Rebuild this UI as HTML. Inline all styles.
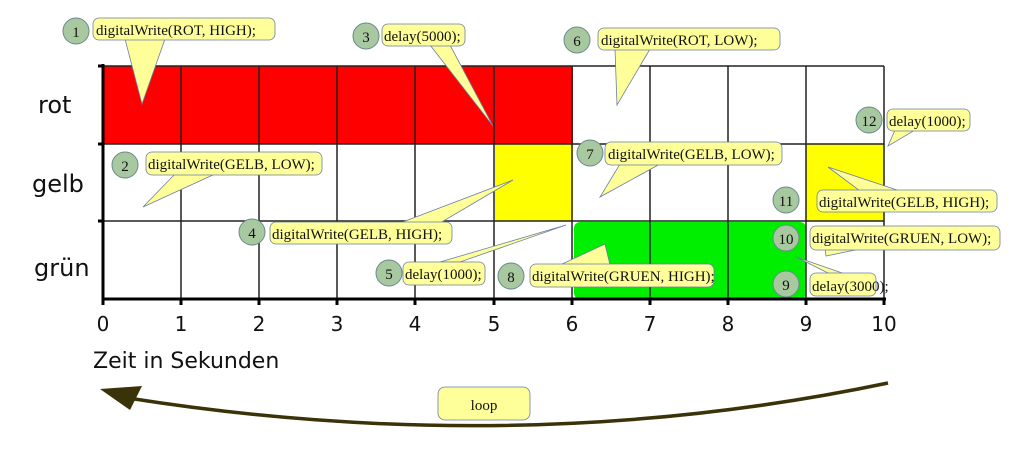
<!DOCTYPE html>
<html><head><meta charset="utf-8"><style>
html,body{margin:0;padding:0;background:#fff;width:1024px;height:453px;overflow:hidden}
svg text{font-family:"Liberation Serif",serif;font-size:15px;fill:#111}
svg text.ax{font-family:"DejaVu Sans",sans-serif;fill:#111}
svg text.n20{font-size:20px}
svg text.n24{font-size:24px}
svg text.n22{font-size:22px}
</style></head><body>
<svg width="1024" height="453" viewBox="0 0 1024 453" xmlns="http://www.w3.org/2000/svg">
<rect x="103" y="66" width="470" height="78" fill="#ff0000"/>
<rect x="495" y="144" width="78" height="77" fill="#ffff00"/>
<rect x="806" y="144" width="78" height="77" fill="#ffff00"/>
<rect x="574" y="222" width="232" height="77" rx="6" fill="#00ee00"/>
<g stroke="#222" stroke-width="1.5">
<line x1="103" y1="66" x2="884" y2="66"/>
<line x1="103" y1="144" x2="884" y2="144"/>
<line x1="103" y1="221" x2="884" y2="221"/>
<line x1="181" y1="66" x2="181" y2="299"/>
<line x1="259" y1="66" x2="259" y2="299"/>
<line x1="337" y1="66" x2="337" y2="299"/>
<line x1="415" y1="66" x2="415" y2="299"/>
<line x1="494" y1="66" x2="494" y2="299"/>
<line x1="572" y1="66" x2="572" y2="299"/>
<line x1="650" y1="66" x2="650" y2="299"/>
<line x1="728" y1="66" x2="728" y2="299"/>
<line x1="806" y1="66" x2="806" y2="299"/>
<line x1="884" y1="66" x2="884" y2="299"/>
</g>
<g stroke="#000" stroke-width="3">
<line x1="103" y1="64" x2="103" y2="300"/>
<line x1="102" y1="299" x2="886" y2="299"/>
<line x1="98" y1="66" x2="103" y2="66"/><line x1="98" y1="144" x2="103" y2="144"/><line x1="98" y1="221" x2="103" y2="221"/>
<line x1="103" y1="299" x2="103" y2="305"/><line x1="181" y1="299" x2="181" y2="305"/><line x1="259" y1="299" x2="259" y2="305"/><line x1="337" y1="299" x2="337" y2="305"/><line x1="415" y1="299" x2="415" y2="305"/><line x1="494" y1="299" x2="494" y2="305"/><line x1="572" y1="299" x2="572" y2="305"/><line x1="650" y1="299" x2="650" y2="305"/><line x1="728" y1="299" x2="728" y2="305"/><line x1="806" y1="299" x2="806" y2="305"/><line x1="884" y1="299" x2="884" y2="305"/>
</g>
<g text-anchor="middle">
<text class="ax n20" x="103" y="331">0</text><text class="ax n20" x="181" y="331">1</text><text class="ax n20" x="259" y="331">2</text><text class="ax n20" x="337" y="331">3</text><text class="ax n20" x="415" y="331">4</text><text class="ax n20" x="494" y="331">5</text><text class="ax n20" x="572" y="331">6</text><text class="ax n20" x="650" y="331">7</text><text class="ax n20" x="728" y="331">8</text><text class="ax n20" x="806" y="331">9</text><text class="ax n20" x="884" y="331">10</text>
</g>
<text class="ax n24" x="38" y="113">rot</text>
<text class="ax n24" x="32" y="192">gelb</text>
<text class="ax n24" x="34" y="276">grün</text>
<text class="ax n22" x="93" y="368">Zeit in Sekunden</text>
<g fill="#ffff99" stroke="#6a7fa8" stroke-width="0.8">
<polygon points="125,39 165,39 142,104"/><rect x="93" y="18" width="182" height="22" rx="6"/>
<polygon points="430,45 450,45 493,126"/><rect x="382" y="24" width="83" height="22" rx="6"/>
<polygon points="615,49 650,49 617,105"/><rect x="598" y="28" width="182" height="22" rx="6"/>
<polygon points="895,130 915,130 888,146"/><rect x="887" y="109" width="83" height="22" rx="6"/>
<polygon points="175,174 215,174 143,207"/><rect x="146" y="152" width="176" height="23" rx="6"/>
<polygon points="620,164 660,164 600,197"/><rect x="605" y="142" width="177" height="23" rx="6"/>
<polygon points="400,223 440,223 513,180"/><rect x="270" y="222" width="182" height="22" rx="6"/>
<polygon points="860,191 900,191 828,167"/><rect x="817" y="190" width="180" height="22" rx="6"/>
<polygon points="440,262 460,262 566,225"/><rect x="403" y="262" width="82" height="23" rx="6"/>
<polygon points="560,265 610,265 605,244"/><rect x="530" y="264" width="184" height="23" rx="6"/>
<polygon points="825,249 860,249 826,256"/><rect x="810" y="226" width="190" height="24" rx="6"/>
<polygon points="830,274 845,274 796,257"/><rect x="810" y="273" width="66" height="23" rx="6"/>
</g>
<text x="96" y="35">digitalWrite(ROT, HIGH);</text>
<text x="384" y="41">delay(5000);</text>
<text x="601" y="45">digitalWrite(ROT, LOW);</text>
<text x="889" y="126">delay(1000);</text>
<text x="148" y="169">digitalWrite(GELB, LOW);</text>
<text x="608" y="159">digitalWrite(GELB, LOW);</text>
<text x="272" y="239">digitalWrite(GELB, HIGH);</text>
<text x="819" y="207">digitalWrite(GELB, HIGH);</text>
<text x="405" y="279">delay(1000);</text>
<text x="532" y="281">digitalWrite(GRUEN, HIGH);</text>
<text x="812" y="243">digitalWrite(GRUEN, LOW);</text>
<text x="812" y="291">delay(3000);</text>
<g fill="#a8c8a0" stroke="#6a8a8a" stroke-width="1">
<circle cx="76" cy="31" r="13"/><circle cx="366" cy="36" r="13"/><circle cx="577" cy="40" r="13"/><circle cx="869" cy="120" r="13"/>
<circle cx="125" cy="165" r="13"/><circle cx="590" cy="153" r="13"/><circle cx="252" cy="232" r="13"/><circle cx="786" cy="200" r="13"/>
<circle cx="389" cy="273" r="13"/><circle cx="511" cy="276" r="13"/><circle cx="786" cy="238" r="13"/><circle cx="786" cy="284" r="13"/>
</g>
<g text-anchor="middle">
<text x="76" y="37">1</text><text x="366" y="42">3</text><text x="577" y="46">6</text><text x="869" y="126">12</text>
<text x="125" y="171">2</text><text x="590" y="159">7</text><text x="252" y="238">4</text><text x="786" y="206">11</text>
<text x="389" y="279">5</text><text x="511" y="282">8</text><text x="786" y="244">10</text><text x="786" y="290">9</text>
</g>
<path d="M888,383 Q520,460 128,398" fill="none" stroke="#3a3208" stroke-width="3.5"/>
<polygon points="100,389 142,386 130,410" fill="#3a3208"/>
<rect x="438" y="387" width="92" height="33" rx="7" fill="#ffff99" stroke="#6a7fa8" stroke-width="0.8"/>
<text x="484" y="410" text-anchor="middle">loop</text>
</svg>
</body></html>
